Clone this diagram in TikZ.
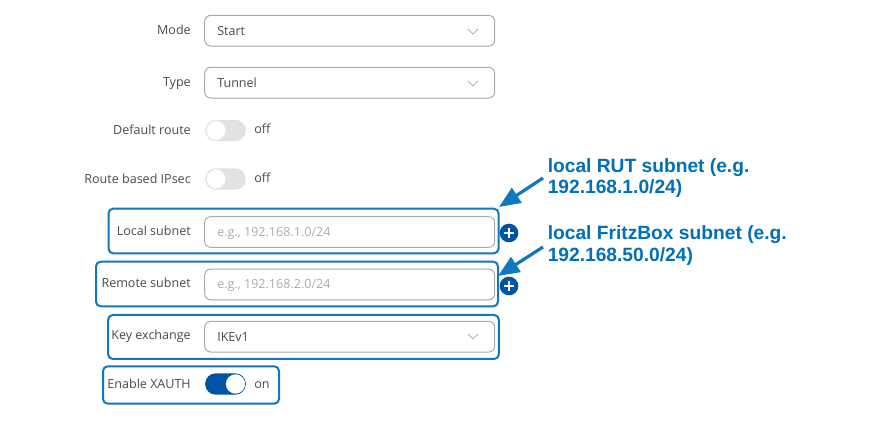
\documentclass[tikz,border=0pt]{standalone}
\usepackage{fontspec}
\setmainfont{Open Sans}
\newfontfamily\calloutfont{Liberation Sans}
\usetikzlibrary{arrows.meta}
\definecolor{hl}{HTML}{0F78BE}
\definecolor{tealabel}{HTML}{0070BA}
\definecolor{brand}{HTML}{0054A6}
\definecolor{fieldline}{HTML}{A9A9B0}
\definecolor{chevcol}{HTML}{B4B4BA}
\definecolor{labeltext}{HTML}{4A4A4A}
\definecolor{hint}{HTML}{ABABAB}
\definecolor{offtrack}{HTML}{E2E2E2}
\tikzset{
  x=0.75pt,y=-0.75pt,
  lab/.style={font=\fontsize{9.4pt}{11pt}\selectfont,text=labeltext,anchor=base east,inner sep=0pt},
  val/.style={font=\fontsize{9.4pt}{11pt}\selectfont,text=labeltext,anchor=base west,inner sep=0pt},
  ph/.style={font=\fontsize{9.4pt}{11pt}\selectfont,text=hint,anchor=base west,inner sep=0pt},
  field/.style={draw=fieldline,line width=0.75pt,rounded corners=4.5pt,fill=white,inner sep=0pt,minimum width=217.5pt,minimum height=23pt},
  hlbox/.style={draw=hl,line width=1.5pt,rounded corners=3.5pt,inner sep=0pt},
  track/.style={fill=offtrack,rounded corners=7.9pt,inner sep=0pt,minimum width=30.5pt,minimum height=16pt},
  ontrack/.style={track,fill=brand},
  knob/.style={circle,fill=white,inner sep=0pt,minimum size=14.5pt},
  plusdot/.style={circle,fill=brand,inner sep=0pt,minimum size=14pt},
  chev/.style={draw=chevcol,line width=0.6pt},
  callout/.style={font=\calloutfont\bfseries\fontsize{14.4pt}{17pt}\selectfont,text=tealabel,anchor=base west,inner sep=0pt,align=left},
  pointer/.style={draw=hl,line width=2.4pt,-{Triangle[length=16pt,width=13pt]}}
}
\begin{document}
\begin{tikzpicture}
\useasboundingbox (0,0) rectangle (875,423);
\fill[white] (0,0) rectangle (875,423);
% highlight boxes
\node[hlbox,minimum width=292.5pt,minimum height=33.5pt] (hlLocal) at (303.5,231) {};
\node[hlbox,minimum width=301.5pt,minimum height=33.5pt] (hlRemote) at (297,284) {};
\node[hlbox,minimum width=293pt,minimum height=33pt] (hlKey) at (303.5,337) {};
\node[hlbox,minimum width=132pt,minimum height=28pt] (hlXauth) at (191,385) {};
% fields
\node[field] (fMode) at (349.7,30.7) {};
\node[field] (fType) at (349.7,82.7) {};
\node[field] (fLocal) at (349.7,232) {};
\node[field] (fRemote) at (349.7,284.5) {};
\node[field] (fKey) at (349.7,336.7) {};
% labels
\node[lab] (lMode) at (191,35) {Mode};
\node[lab] (lType) at (191,87) {Type};
\node[lab] (lDefault) at (191,135) {Default route};
\node[lab] (lRoute) at (191,184) {Route based IPsec};
\node[lab] (lLocal) at (191,236) {Local subnet};
\node[lab] (lRemote) at (191,288) {Remote subnet};
\node[lab] (lKey) at (191,340) {Key exchange};
\node[lab] (lXauth) at (191,389) {Enable XAUTH};
% values
\node[val] (vMode) at (217,36) {Start};
\node[val] (vType) at (217,88) {Tunnel};
\node[ph] (vLocal) at (217,237) {e.g., 192.168.1.0/24};
\node[ph] (vRemote) at (217,289) {e.g., 192.168.2.0/24};
\node[val] (vKey) at (217,342) {IKEv1};
% chevrons
\draw[chev] (468,29) -- (473,34) -- (478,29);
\draw[chev] (468,81) -- (473,86) -- (478,81);
\draw[chev] (468,334) -- (473,339) -- (478,334);
% toggles
\node[track] (tDefault) at (225.5,130.5) {};
\node[knob,draw=black!8] (kDefault) at (216,130.5) {};
\node[val] (sDefault) at (254,134) {off};
\node[track] (tRoute) at (225.5,179) {};
\node[knob,draw=black!8] (kRoute) at (216,179) {};
\node[val] (sRoute) at (254,183) {off};
\node[ontrack] (tXauth) at (225.5,384) {};
\node[knob] (kXauth) at (235.5,384) {};
\node[val] (sXauth) at (254,389) {on};
% plus buttons
\node[plusdot] (pLocal) at (509,233) {};
\draw[white,line width=1.5pt] (pLocal.center) ++(-5,0) -- ++(10,0) (pLocal.center) ++(0,-5) -- ++(0,10);
\node[plusdot] (pRemote) at (509,286) {};
\draw[white,line width=1.5pt] (pRemote.center) ++(-5,0) -- ++(10,0) (pRemote.center) ++(0,-5) -- ++(0,10);
% callouts
\node[callout] (cLocalA) at (547.5,172.5) {local RUT subnet (e.g.};
\node[callout] (cLocalB) at (547.5,193.5) {192.168.1.0/24)};
\node[callout] (cRemoteA) at (547.5,240) {local FritzBox subnet (e.g.};
\node[callout] (cRemoteB) at (547.5,261.5) {192.168.50.0/24)};
\coordinate (aLocal) at (543,178);
\coordinate (tipLocal) at (499,207);
\coordinate (aRemote) at (543,247);
\coordinate (tipRemote) at (498,276);
\draw[pointer] (aLocal) -- (tipLocal);
\draw[pointer] (aRemote) -- (tipRemote);
\end{tikzpicture}
\end{document}
